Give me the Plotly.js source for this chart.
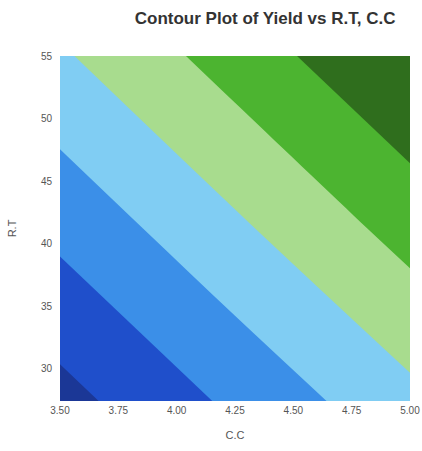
<!DOCTYPE html>
<html>
<head>
<meta charset="utf-8">
<script src="https://cdn.plot.ly/plotly-3.0.1.min.js"></script>
<style>
  html, body { margin: 0; padding: 0; background: #ffffff; }
  #chart { width: 422px; height: 451px; }
</style>
</head>
<body>
<div id="chart"></div>
<script>
// C.C (x) grid values
const ccValues = [3.5, 4.25, 5.0];
// R.T (y) grid values
const rtValues = [27.4, 41.2, 55];
// Yield values (rows = R.T, cols = C.C)
const yieldGrid = [
  [48.3, 56.0, 63.65],
  [56.3, 64.1, 71.9],
  [64.35, 72.2, 80.1]
];
// Contour band levels
const levelStart = 50;
const levelEnd = 75;
const levelStep = 5;
// Band colours from lowest to highest yield
const bandColors = ['#1b3796', '#1f4fcb', '#3b8fe8', '#80cdf3', '#a8dc8e', '#4cb430', '#2f6e1d'];
// Tick labels
const xTicks = [3.5, 3.75, 4.0, 4.25, 4.5, 4.75, 5.0];
const yTicks = [30, 35, 40, 45, 50, 55];

const colorscale = bandColors.map((c, i) => [i / (bandColors.length - 1), c]);

const trace = {
  type: 'contour',
  x: ccValues,
  y: rtValues,
  z: yieldGrid,
  autocontour: false,
  contours: { start: levelStart, end: levelEnd, size: levelStep, coloring: 'fill', showlines: false },
  line: { width: 0 },
  colorscale: colorscale,
  showscale: false,
  hoverinfo: 'skip'
};

const layout = {
  width: 422,
  height: 451,
  margin: { l: 60, r: 12, t: 56, b: 50, autoexpand: false },
  paper_bgcolor: '#ffffff',
  plot_bgcolor: '#ffffff',
  font: { family: 'Liberation Sans, Arial, sans-serif', color: '#444' },
  title: {
    text: 'Contour Plot of Yield vs R.T, C.C',
    x: 0.586, xanchor: 'center', xref: 'paper',
    y: 0.96, yanchor: 'middle',
    font: { size: 17, color: '#333', family: 'Liberation Sans, Arial, sans-serif', weight: 'bold' }
  },
  xaxis: {
    range: [3.5, 5.0],
    tickvals: xTicks,
    ticktext: xTicks.map(v => v.toFixed(2)),
    showgrid: false, zeroline: false, showline: false, ticks: '',
    tickfont: { size: 10, color: '#555' },
    ticklabelstandoff: 2,
    title: { text: 'C.C', font: { size: 11, color: '#555' }, standoff: 16 }
  },
  yaxis: {
    range: [27.4, 55],
    tickvals: yTicks,
    ticktext: yTicks.map(String),
    showgrid: false, zeroline: false, showline: false, ticks: '',
    tickfont: { size: 10, color: '#555' },
    ticklabelstandoff: 7,
    title: { text: 'R.T', font: { size: 11, color: '#555' }, standoff: 22 }
  },
  showlegend: false
};

Plotly.newPlot('chart', [trace], layout, { staticPlot: true, displayModeBar: false });
</script>
</body>
</html>
